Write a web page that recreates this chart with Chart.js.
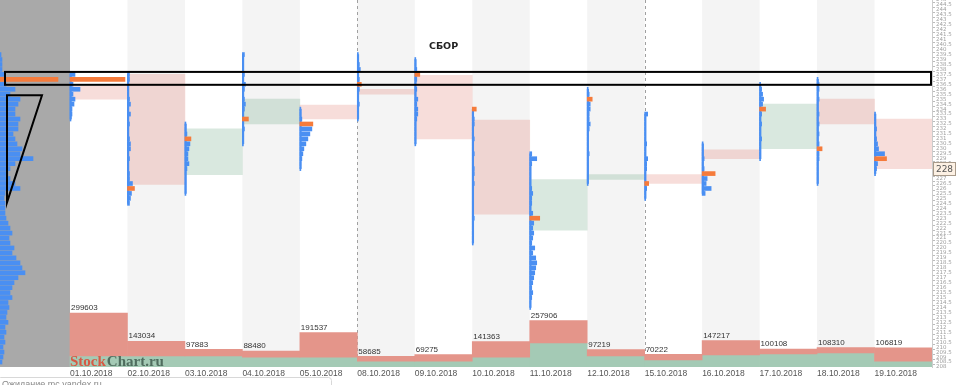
<!DOCTYPE html>
<html>
<head>
<meta charset="utf-8">
<script src="https://cdn.jsdelivr.net/npm/chart.js@4.4.0/dist/chart.umd.min.js"></script>
<style>
  html, body { margin: 0; padding: 0; background: #fff; }
  #wrap { width: 960px; height: 385px; position: relative; }
</style>
</head>
<body>
<div id="wrap"><canvas id="chart"></canvas></div>
<script>
// trading days
const dates = ['01.10.2018','02.10.2018','03.10.2018','04.10.2018','05.10.2018',
               '08.10.2018','09.10.2018','10.10.2018','11.10.2018','12.10.2018',
               '15.10.2018','16.10.2018','17.10.2018','18.10.2018','19.10.2018'];

// daily volume: total and buy part
const volTotal = [299603,143034,97883,88480,191537,58685,69275,141363,257906,97219,70222,147217,100108,108310,106819];
const volBuy   = [61000,61000,61000,55000,55000,33000,33000,55000,133000,61000,39000,67000,72000,78000,33000];

// day bodies
const boxOpen  = [236.3,237.5,227.4,232.5,234.4,236.0,237.4,232.9,221.8,226.9,227.4,229.9,230.0,235.0,233.0];
const boxClose = [235.0,226.4,232.0,235.0,233.0,235.5,231.0,223.4,226.9,227.4,226.5,229.0,234.5,232.5,228.0];

// day range
const dayHigh = [237.5,237.5,232.5,239.5,234,239.5,239,234,229.5,236,233.5,230.5,236.5,237,233.5];
const dayLow  = [233,224.5,225.5,230.5,228,233,230.5,220.5,214,226.5,225,225.5,229,226.5,227.5];

// volume at price, from dayHigh down, step 0.5
const profiles = [
  [5,55,3,10,3,5,4,2,2,1],
  [2,2,1,1,1,2,3,1,3,1,2,1,1,2,3,3,1,2,1,1,2,2,5,7,4,3,2],
  [1,1,2,6,5,4,3,3,4,2,1,1,1,1,1],
  [2,1,1,1,2,1,3,2,1,2,3,2,1,6,1,2,1,1,1],
  [1,1,2,13,12,10,8,6,4,3,2,1,1],
  [1,1,2,3,1,2,4,2,1,1,2,1,1,1],
  [1,1,2,5,2,1,2,1,3,2,3,3,2,1,1,1,1,1],
  [4,1,2,2,1,1,2,1,1,2,1,1,2,2,1,2,1,1,1,1,1,1,2,1,1,1,1,1],
  [2,7,2,1,1,1,1,2,3,2,2,1,3,10,4,3,4,3,2,5,3,6,7,6,5,4,3,2,3,2,1,1],
  [1,2,5,3,3,2,2,3,2,1,1,1,1,2,1,1,1,1,1,1],
  [3,1,1,1,1,1,2,1,1,3,2,2,1,1,4,2,1,1],
  [1,1,1,2,1,2,13,5,4,9,3],
  [1,2,3,4,3,6,2,1,2,1,1,2,1,1,1,1],
  [1,2,2,1,2,1,1,2,1,2,1,2,1,2,5,2,2,1,1,1,1,1],
  [1,1,1,2,1,2,3,4,10,12,3,2,1]
];

// whole period profile, from totalTop down, step 0.5
const totalTop = 239.5;
const totalProfile = [1,2,2,2,5,58,6,15,10,20,18,15,15,20,18,18,13,15,17,22,20,33,15,10,8,10,15,20,5,4,
                      5,5,5,6,8,10,12,9,10,14,12,16,20,22,25,18,14,12,10,12,8,9,7,6,8,5,6,4,5,3,4,3,2];

const lastPrice = 228;
const priceMin = 208, priceMax = 245;
const sborZone = [236.45, 237.75];

const STEP = 0.5;
const PROFILE_UNIT = 57.5;      // profile volume per day column
const LEFT_SPAN = 1.218;        // width of whole period panel, in days
const VOL_MAX = 2036000;

const BLUE = '#4a8ff2', ORANGE = '#f57b3b';
const PINK = 'rgba(231,150,140,0.32)', GREEN = 'rgba(130,180,150,0.30)';

// build datasets
const profData = [], profColors = [];
profiles.forEach((arr, d) => {
  const poc = arr.indexOf(Math.max(...arr));
  arr.forEach((v, k) => {
    profData.push({ y: dayHigh[d] - k * STEP, x: [d, d + v / PROFILE_UNIT] });
    profColors.push(k === poc ? ORANGE : BLUE);
  });
});
const tPoc = totalProfile.indexOf(Math.max(...totalProfile));
totalProfile.forEach((v, k) => {
  profData.push({ y: totalTop - k * STEP, x: [-LEFT_SPAN, -LEFT_SPAN + v / PROFILE_UNIT] });
  profColors.push(k === tPoc ? ORANGE : BLUE);
});

const rangeData = dates.map((d, i) => ({ x: i + 0.012, y: [dayLow[i], dayHigh[i]] }));
const boxData = dates.map((d, i) => ({ x: i + 0.5, y: [boxOpen[i], boxClose[i]] }));
const boxColors = dates.map((d, i) => boxClose[i] < boxOpen[i] ? PINK : GREEN);
const sellData = dates.map((d, i) => ({ x: i + 0.5, y: [volBuy[i], volTotal[i]] }));
const buyData = dates.map((d, i) => ({ x: i + 0.5, y: [0, volBuy[i]] }));

const dayNum = dates.map(s => { const p = s.split('.'); return Date.UTC(+p[2], +p[1] - 1, +p[0]) / 86400000; });

const backPlugin = {
  id: 'back',
  beforeDatasetsDraw(chart) {
    const { ctx, chartArea: a, scales: { x } } = chart;
    ctx.save();
    ctx.fillStyle = '#a9a9a9';
    ctx.fillRect(a.left, a.top, x.getPixelForValue(0) - a.left, a.bottom - a.top);
    ctx.fillStyle = '#f4f4f4';
    dates.forEach((d, i) => {
      if (i % 2 === 1) {
        const l = x.getPixelForValue(i), r = x.getPixelForValue(i + 1);
        ctx.fillRect(l, a.top, r - l, a.bottom - a.top);
      }
    });
    ctx.strokeStyle = '#a0a0a0';
    ctx.lineWidth = 1;
    ctx.setLineDash([3, 3]);
    dates.forEach((d, i) => {
      if (i > 0 && dayNum[i] - dayNum[i - 1] > 1) {
        const px = Math.round(x.getPixelForValue(i)) + 0.5;
        ctx.beginPath(); ctx.moveTo(px, a.top); ctx.lineTo(px, a.bottom); ctx.stroke();
      }
    });
    ctx.restore();
  }
};

const overlayPlugin = {
  id: 'overlay',
  afterDatasetsDraw(chart) {
    const { ctx, chartArea: a, scales: { x, y, vol } } = chart;
    ctx.save();
    // volume labels
    ctx.font = '8px "Liberation Sans"';
    ctx.fillStyle = '#333';
    ctx.textAlign = 'left';
    ctx.textBaseline = 'bottom';
    volTotal.forEach((v, i) => {
      ctx.fillText(String(v), x.getPixelForValue(i) + 1, vol.getPixelForValue(v) - 1);
    });
    // watermark
    ctx.font = 'bold 15px "Liberation Serif"';
    ctx.textBaseline = 'alphabetic';
    const wx = x.getPixelForValue(0);
    ctx.fillStyle = '#d65a45';
    ctx.fillText('Stock', wx, a.bottom - 1);
    const sw = ctx.measureText('Stock').width;
    ctx.fillStyle = '#4f6d5e';
    ctx.fillText('Chart.ru', wx + sw + 1, a.bottom - 1);
    // СБОР zone
    ctx.strokeStyle = '#000';
    ctx.lineWidth = 2;
    const zt = y.getPixelForValue(sborZone[1]), zb = y.getPixelForValue(sborZone[0]);
    ctx.strokeRect(a.left + 5, zt, a.right - a.left - 6, zb - zt);
    // triangle
    ctx.beginPath();
    ctx.moveTo(a.left + 7, y.getPixelForValue(235.4));
    ctx.lineTo(a.left + 42, y.getPixelForValue(235.4));
    ctx.lineTo(a.left + 7, y.getPixelForValue(224.6));
    ctx.closePath();
    ctx.stroke();
    // label
    ctx.font = 'bold 9.5px "DejaVu Sans"';
    ctx.fillStyle = '#222';
    ctx.textAlign = 'center';
    ctx.textBaseline = 'middle';
    ctx.fillText('СБОР', x.getPixelForValue(6.5), y.getPixelForValue(240.3));
    ctx.restore();
  },
  afterDraw(chart) {
    const { ctx, chartArea: a, scales: { y } } = chart;
    ctx.save();
    // last price tag
    const py = Math.round(y.getPixelForValue(lastPrice));
    ctx.fillStyle = '#fdf1e4';
    ctx.strokeStyle = '#a89a8a';
    ctx.lineWidth = 1;
    ctx.fillRect(a.right + 1.5, py - 6.5, 22, 13);
    ctx.strokeRect(a.right + 1.5, py - 6.5, 22, 13);
    ctx.font = '9px "DejaVu Sans"';
    ctx.fillStyle = '#555';
    ctx.textAlign = 'center';
    ctx.textBaseline = 'middle';
    ctx.fillText(String(lastPrice), a.right + 12.5, py + 0.5);
    // browser status bar
    ctx.fillStyle = '#fff';
    ctx.strokeStyle = '#d8d8d8';
    ctx.beginPath();
    ctx.roundRect(-2.5, 377.5, 334, 14, 3);
    ctx.fill(); ctx.stroke();
    ctx.font = '9px "Liberation Sans"';
    ctx.fillStyle = '#888';
    ctx.textAlign = 'left';
    ctx.textBaseline = 'top';
    ctx.fillText('Ожидание mc.yandex.ru', 2, 380);
    ctx.restore();
  }
};

const noPad = s => { s.paddingTop = 0; s.paddingBottom = 0; s.paddingLeft = 0; s.paddingRight = 0; };

const chart = new Chart(document.getElementById('chart'), {
  type: 'bar',
  data: {
    datasets: [
      { label: 'profile', indexAxis: 'y', data: profData, backgroundColor: profColors,
        barThickness: 4, grouped: false, xAxisID: 'x', yAxisID: 'y' },
      { label: 'range', data: rangeData, backgroundColor: BLUE, barThickness: 1.5, grouped: false,
        xAxisID: 'x', yAxisID: 'y' },
      { label: 'body', data: boxData, backgroundColor: boxColors, barThickness: 57, grouped: false,
        xAxisID: 'x', yAxisID: 'y' },
      { label: 'sell', data: sellData, backgroundColor: '#e4958a', barThickness: 57, grouped: false,
        xAxisID: 'x', yAxisID: 'vol' },
      { label: 'buy', data: buyData, backgroundColor: '#a4cab5', barThickness: 57, grouped: false,
        xAxisID: 'x', yAxisID: 'vol' }
    ]
  },
  options: {
    responsive: true,
    maintainAspectRatio: false,
    animation: false,
    layout: { padding: 0 },
    plugins: { legend: { display: false }, tooltip: { enabled: false } },
    scales: {
      x: {
        type: 'linear',
        offset: false,
        min: -LEFT_SPAN,
        max: dates.length,
        grid: { display: false, drawTicks: false, tickLength: 0, offset: false },
        border: { display: false },
        afterBuildTicks: s => { s.ticks = dates.map((d, i) => ({ value: i })); },
        afterFit: s => { s.height = 18; noPad(s); },
        ticks: {
          autoSkip: false, maxRotation: 0, align: 'start', padding: 2,
          color: '#555', font: { family: 'Liberation Sans', size: 8.5 },
          callback: (v) => dates[v]
        }
      },
      y: {
        type: 'linear',
        position: 'right',
        offset: false,
        min: priceMin,
        max: priceMax,
        grid: { drawOnChartArea: false, tickLength: 3, color: '#bbb' },
        border: { color: '#ccc' },
        afterFit: s => { s.width = 28; noPad(s); },
        ticks: {
          stepSize: 0.5, autoSkip: false, padding: 1,
          color: '#a0a0a0', font: { family: 'DejaVu Sans', size: 5.5 },
          callback: v => String(v)
        }
      },
      vol: { type: 'linear', display: false, offset: false, min: 0, max: VOL_MAX }
    }
  },
  plugins: [backPlugin, overlayPlugin]
});

// bar width = one day column
const colW = chart.scales.x.getPixelForValue(1) - chart.scales.x.getPixelForValue(0);
[2, 3, 4].forEach(k => { chart.data.datasets[k].barThickness = colW; });
chart.update('none');
</script>
</body>
</html>
